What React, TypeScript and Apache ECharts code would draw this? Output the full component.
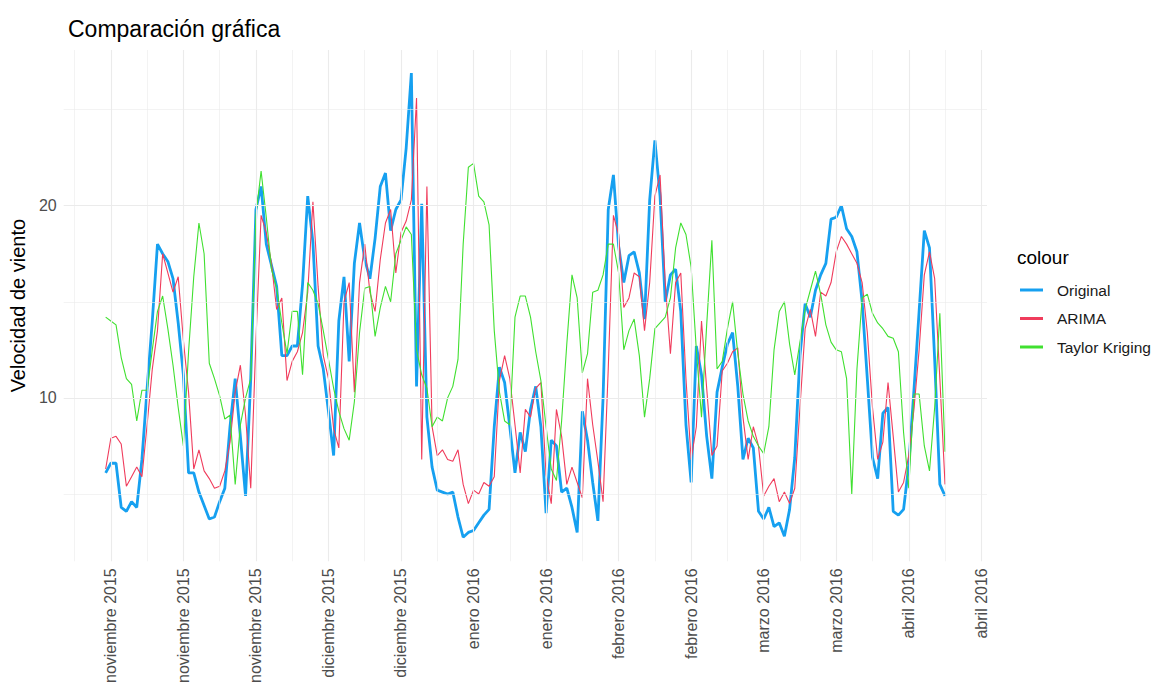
import React, { useEffect, useRef } from "react";
import * as echarts from "echarts";

// Daily series from 31 Oct 2015 (index 0) to 10 Apr 2016 (index 162)
const startDate = Date.UTC(2015, 9, 31);
const DAY = 86400000;

const original = [
  6.1, 6.6, 6.6, 4.3, 4.1, 4.6, 4.3, 6.8, 10.5, 14.0,
  18.0, 17.5, 17.1, 16.2, 13.9, 11.2, 6.1, 6.1, 5.1, 4.4,
  3.7, 3.8, 4.6, 5.3, 8.5, 11.0, 8.0, 4.9, 11.0, 19.8,
  21.0, 18.0, 16.9, 15.8, 12.2, 12.2, 12.7, 12.7, 15.9, 20.5,
  18.1, 12.7, 11.5, 9.3, 7.0, 14.0, 16.3, 11.9, 17.0, 19.1,
  17.2, 16.2, 18.3, 21.0, 21.7, 18.7, 19.8, 20.3, 23.0, 26.9,
  10.6, 20.1, 9.0, 6.4, 5.2, 5.1, 5.0, 5.1, 3.8, 2.75,
  3.0, 3.1, 3.5, 3.9, 4.2, 8.5, 11.6, 10.8, 8.5, 6.1,
  8.2, 7.2, 9.4, 10.6, 8.5, 4.0, 7.8, 7.5, 5.1, 5.3,
  4.3, 3.0, 9.3, 7.8, 5.6, 3.6, 10.0, 19.8, 21.6, 17.9,
  16.0, 17.4, 17.6, 16.5, 14.1, 20.3, 23.4, 20.5, 15.0, 16.4,
  16.7, 14.5, 8.6, 5.6, 12.7, 11.2, 8.0, 5.8, 10.3, 11.6,
  12.8, 13.4, 10.6, 6.8, 7.9, 7.4, 4.1, 3.7, 4.3, 3.3,
  3.5, 2.8, 4.2, 6.9, 12.2, 14.9, 14.2, 15.6, 16.4, 17.0,
  19.3, 19.4, 20.0, 18.8, 18.4, 17.6, 15.0, 11.0, 6.9, 5.8,
  9.2, 9.5, 4.1, 3.9, 4.2, 6.5, 10.4, 14.5, 18.7, 17.8,
  12.0, 5.5, 4.9,
];

const arima = [
  6.3, 7.9, 8.0, 7.6, 5.4, 5.9, 6.4, 5.9, 8.6, 11.5,
  13.5, 17.5, 16.5, 15.5, 16.3, 13.0, 10.3, 6.3, 7.3, 6.2,
  5.8, 5.3, 5.4, 6.2, 7.7, 10.3, 11.7, 9.1, 5.3, 13.0,
  19.5, 18.6, 17.0, 14.6, 15.2, 10.9, 11.9, 12.4, 13.4, 15.5,
  20.2, 15.8, 12.2, 11.0, 8.4, 7.4, 15.0, 16.0, 10.3, 16.0,
  18.0, 15.5, 14.5, 17.2, 19.1, 19.8, 16.5, 18.6, 19.2, 20.3,
  25.6, 6.8, 21.0, 8.5, 7.0, 7.3, 6.8, 6.7, 7.3, 5.5,
  4.5, 5.2, 5.0, 5.6, 5.4, 5.9, 10.9, 12.2, 11.0, 8.6,
  6.1, 9.4, 9.0, 10.5, 10.8, 6.0, 4.5, 9.4, 8.0, 5.5,
  6.4, 5.6, 4.8, 11.0, 8.6, 6.7, 4.6, 11.5, 19.5, 18.5,
  14.7, 15.2, 16.5, 16.3, 13.5, 16.0, 20.5, 21.6, 16.0, 12.3,
  16.0, 16.5, 11.0, 6.8, 8.5, 14.0, 10.5, 7.0, 7.5, 11.4,
  11.8, 12.4, 12.6, 9.0, 6.8, 8.5, 7.5, 4.9, 5.4, 5.8,
  4.6, 5.1, 4.5, 5.3, 9.5, 13.6, 14.6, 13.2, 15.5, 15.3,
  16.0, 17.6, 18.4, 18.0, 17.5, 17.0, 16.0, 13.4, 9.5, 6.8,
  7.7, 10.8, 8.0, 5.1, 5.6, 7.0, 9.4, 12.5, 16.4, 17.6,
  16.2, 11.0, 5.5,
];

const taylorKriging = [
  14.2, 14.0, 13.8, 12.1, 11.0, 10.7, 8.8, 10.4, 10.4, 12.5,
  14.5, 15.3, 13.6, 11.7, 9.5, 7.5, 12.4, 16.3, 19.1, 17.5,
  11.8, 11.0, 10.1, 8.9, 9.1, 5.5, 8.6, 10.0, 11.0, 19.5,
  21.8, 19.4, 16.7, 15.7, 13.9, 12.3, 14.5, 14.5, 11.2, 16.0,
  15.6, 14.9, 13.5, 12.0, 10.5, 9.3, 8.4, 7.8, 9.8, 13.4,
  15.7, 15.8, 13.2, 14.7, 15.8, 15.0, 17.5, 18.2, 18.9, 18.5,
  12.5, 11.2, 10.5, 8.5, 9.0, 8.8, 10.0, 10.6, 12.0, 18.0,
  22.0, 22.2, 20.5, 20.2, 19.0, 13.5, 10.3, 8.8, 8.6, 14.2,
  15.3, 15.3, 14.2, 12.4, 10.9, 8.5, 6.3, 5.7, 8.8, 12.8,
  16.4, 15.2, 11.3, 12.3, 15.5, 15.6, 16.4, 18.0, 18.0, 16.5,
  12.5, 13.5, 14.1, 12.2, 9.0, 11.0, 13.6, 13.9, 14.2, 15.2,
  17.8, 19.1, 18.5, 16.8, 12.5, 9.0, 13.8, 18.2, 11.5, 11.9,
  13.6, 15.0, 12.3, 10.2, 8.8, 8.0, 7.5, 7.1, 8.5, 12.5,
  14.5, 15.0, 12.8, 11.2, 12.9, 14.6, 15.6, 16.6, 15.4, 13.8,
  12.9, 12.5, 12.4, 11.0, 5.0, 11.5, 15.2, 15.4, 14.4, 13.9,
  13.6, 13.2, 13.1, 12.4, 8.2, 5.3, 10.2, 10.2, 7.5, 6.2,
  9.5, 14.4, 7.2,
];

const seriesNames = ["Original", "ARIMA", "Taylor Kriging"];
const seriesColors = ["#16a0f0", "#f03c5c", "#40e030"];

const tickDates = [
  "2015-11-01", "2015-11-15", "2015-11-29", "2015-12-13", "2015-12-27",
  "2016-01-10", "2016-01-24", "2016-02-07", "2016-02-21", "2016-03-06",
  "2016-03-20", "2016-04-03", "2016-04-17",
];
const tickLabels = [
  "noviembre 2015", "noviembre 2015", "noviembre 2015", "diciembre 2015", "diciembre 2015",
  "enero 2016", "enero 2016", "febrero 2016", "febrero 2016", "marzo 2016",
  "marzo 2016", "abril 2016", "abril 2016",
];
const minorDates = [
  "2015-10-25", "2015-11-08", "2015-11-22", "2015-12-06", "2015-12-20",
  "2016-01-03", "2016-01-17", "2016-01-31", "2016-02-14", "2016-02-28",
  "2016-03-13", "2016-03-27", "2016-04-10",
];
const yMajor = [10, 20];
const yMinor = [5, 15, 25];

// day offset from the first observation (31 Oct 2015)
const toDay = (s: string) => {
  const [y, m, d] = s.split("-").map(Number);
  return Math.round((Date.UTC(y, m - 1, d) - startDate) / DAY);
};

export default function App() {
  const ref = useRef<HTMLDivElement>(null);
  useEffect(() => {
    if (!ref.current) return;
    const chart = echarts.init(ref.current, undefined, { renderer: "svg" });
    const days = original.map((_, i) => i);
    const nDays = original.length - 1;
    const xMin = -nDays * 0.05;
    const xMax = nDays * 1.05;
    const tickDays = tickDates.map(toDay);
    const font = "'Liberation Sans', Arial, sans-serif";
    const gridLine = (w: number) => ({ color: "#ebebeb", width: w, type: "solid" as const });

    const values = [original, arima, taylorKriging];
    const widths = [2.8, 1.1, 1.1];

    chart.setOption({
      animation: false,
      backgroundColor: "#ffffff",
      textStyle: { fontFamily: font },
      title: [
        {
          text: "Comparación gráfica",
          left: 63,
          top: 12,
          textStyle: { fontSize: 23, fontWeight: "normal", color: "#000000", fontFamily: font },
        },
        {
          text: "colour",
          left: 1012,
          top: 243,
          textStyle: { fontSize: 19, fontWeight: "normal", color: "#000000", fontFamily: font },
        },
      ],
      legend: {
        data: seriesNames,
        orient: "vertical",
        left: 1015,
        top: 277,
        itemWidth: 23,
        itemHeight: 3,
        itemGap: 12.5,
        icon: "rect",
        textStyle: { fontSize: 15.5, color: "#1a1a1a", fontFamily: font, padding: [0, 0, 0, 9] },
      },
      grid: { left: 62, right: 175, top: 50, bottom: 123, containLabel: false },
      xAxis: {
        type: "value",
        min: xMin,
        max: xMax,
        axisLine: { show: false },
        axisTick: { show: false },
        splitLine: { show: false },
        axisLabel: {
          customValues: tickDays,
          rotate: 90,
          margin: 7,
          fontSize: 16,
          color: "#4d4d4d",
          fontFamily: font,
          formatter: (v: number) => {
            const idx = tickDays.findIndex((t) => Math.abs(t - v) < 0.5);
            return idx >= 0 ? tickLabels[idx] : "";
          },
        },
      },
      yAxis: {
        type: "value",
        min: 1.5,
        max: 28.1,
        name: "Velocidad de viento",
        nameLocation: "middle",
        nameGap: 32,
        nameTextStyle: { fontSize: 20, color: "#000000", fontFamily: font },
        axisLine: { show: false },
        axisTick: { show: false },
        splitLine: { show: false },
        axisLabel: {
          customValues: yMajor,
          margin: 7,
          fontSize: 16,
          color: "#4d4d4d",
          fontFamily: font,
        },
      },
      series: [
        {
          name: "__grid",
          type: "line",
          z: 1,
          silent: true,
          showSymbol: false,
          lineStyle: { opacity: 0 },
          data: [[days[0], original[0]]],
          markLine: {
            silent: true,
            animation: false,
            symbol: ["none", "none"],
            label: { show: false },
            emphasis: { disabled: true },
            data: [
              ...tickDates.map((d) => ({ xAxis: toDay(d), lineStyle: gridLine(1.1) })),
              ...minorDates.map((d) => ({ xAxis: toDay(d), lineStyle: gridLine(0.6) })),
              ...yMajor.map((v) => ({ yAxis: v, lineStyle: gridLine(1.1) })),
              ...yMinor.map((v) => ({ yAxis: v, lineStyle: gridLine(0.6) })),
            ],
          },
        },
        ...seriesNames.map((name, k) => ({
          name,
          type: "line",
          z: 2 + k,
          showSymbol: false,
          symbol: "none",
          color: seriesColors[k],
          lineStyle: { width: widths[k], color: seriesColors[k] },
          data: days.map((d, i) => [d, values[k][i]]),
        })),
      ],
    });
    return () => chart.dispose();
  }, []);
  return (
    <div
      ref={ref}
      style={{ position: "fixed", left: 0, top: 0, width: 1162, height: 686, background: "#fff" }}
    />
  );
}
